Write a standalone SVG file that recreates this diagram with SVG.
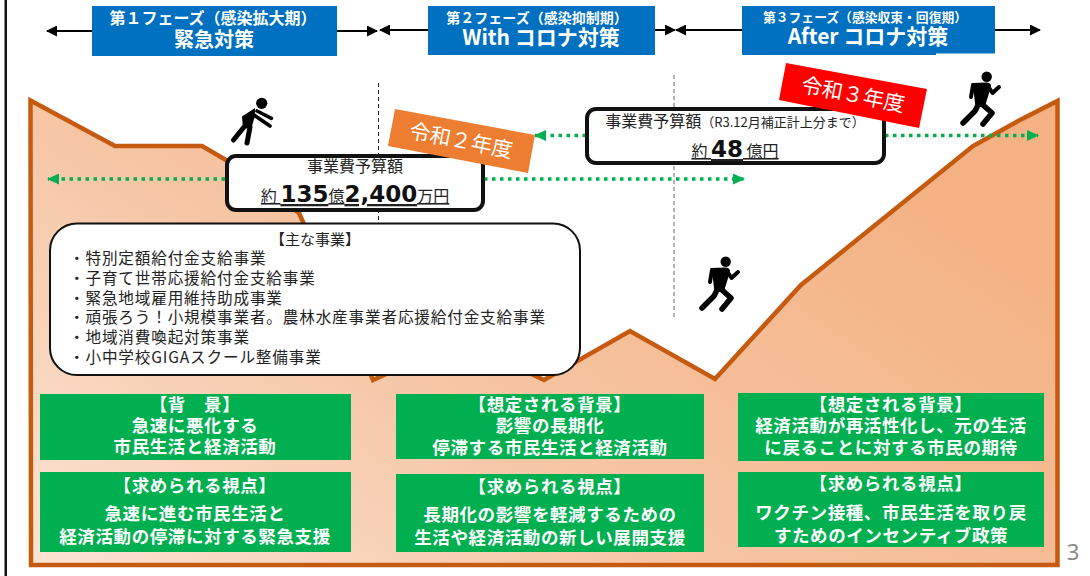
<svg xmlns="http://www.w3.org/2000/svg" width="1090" height="576" viewBox="0 0 1090 576">
<style>
text{font-family:"Noto Sans CJK JP","Noto Sans",sans-serif;text-anchor:middle}
.blue{fill:#0070C0}
.ph1{fill:#fff;font-weight:700}
.ph2{fill:#fff;font-weight:700;font-size:20px}
.ph3{fill:#fff;font-weight:700;font-size:21px}
.grn{fill:#00B050}
.gt{fill:#fff;font-weight:700;font-size:17.5px;letter-spacing:.6px}
.blk{stroke:#000;stroke-width:2;fill:none;marker-end:url(#ah)}
.dot{stroke:#00B050;stroke-width:3.5;stroke-dasharray:3.5 4.5;fill:none;marker-end:url(#gh)}
.bub{fill:#fff;stroke:#111;stroke-width:4}
.bt{fill:#222;font-size:16px}
.num{font-family:"DejaVu Sans",sans-serif;font-weight:700;font-size:23px;fill:#111}
.li{fill:#222;font-size:15.6px;text-anchor:start;letter-spacing:.85px}
.tag{fill:#fff;font-size:21px}
.fig{fill:none;stroke:#000;stroke-linecap:round;stroke-linejoin:round}
</style>
<defs>
<linearGradient id="mg" x1="0" y1="1" x2="1" y2="0.35">
<stop offset="0" stop-color="#FBE3D3"/><stop offset=".45" stop-color="#F6C6A5"/><stop offset="1" stop-color="#F4B183"/>
</linearGradient>
<marker id="ah" markerUnits="userSpaceOnUse" markerWidth="11" markerHeight="11" refX="10" refY="5.5" orient="auto"><path d="M0 0L11 5.5L0 11Z" fill="#000"/></marker>
<marker id="gh" markerUnits="userSpaceOnUse" markerWidth="12" markerHeight="11" refX="11" refY="5.5" orient="auto"><path d="M0 0L12 5.5L0 11Z" fill="#00B050"/></marker>
<g id="runner">
<circle cx="725.700" cy="261.700" r="5.200" fill="#000"/>
<path d="M710.500 268L726 267.500Q730.500 268 730 272L724 291L714.500 293L713 279Z" fill="#000"/>
<path class="fig" stroke-width="4" d="M712 270L710 282M727 271L731.500 278L738 272"/>
<path class="fig" stroke-width="5.500" d="M716 292L714 296L702 308M722 290L731 298L722 309"/>
</g>
</defs>
<rect width="1090" height="576" fill="#fff"/>
<rect x="4.500" y="0" width="2.500" height="576" fill="#111"/>

<g id="mountain">
<path d="M30.500 100.500L115 146L202 146L226 160L299 213L373 380L460 340L544 380L630 331L715 379L801 285L973 146L1020 120L1057.500 101L1057.500 565L31 565Z" fill="url(#mg)" stroke="#C55A11" stroke-width="4.500"/>
</g>

<g id="dividers">
<line x1="378.500" y1="83" x2="378.500" y2="225" stroke="#222" stroke-width="1" stroke-dasharray="4 3"/>
<line x1="674" y1="75" x2="674" y2="318" stroke="#999" stroke-width="1.500" stroke-dasharray="4 3"/>
</g>

<g id="connectors">
<line class="blk" x1="92" y1="31" x2="47" y2="31"/>
<line class="blk" x1="337" y1="31" x2="377" y2="31"/>
<line class="blk" x1="428" y1="30" x2="380" y2="30"/>
<line class="blk" x1="655" y1="30" x2="675" y2="30"/>
<line class="blk" x1="742" y1="30" x2="676" y2="30"/>
<line class="blk" x1="995" y1="30" x2="1040" y2="30"/>
<line class="dot" x1="225" y1="179" x2="48" y2="179"/>
<line class="dot" x1="484" y1="179" x2="744" y2="179"/>
<line class="dot" x1="586" y1="135.500" x2="535" y2="135.500"/>
<line class="dot" x1="885" y1="135.500" x2="1038" y2="135.500"/>
</g>

<g id="phase-1">
<rect class="blue" x="92" y="6" width="245" height="50"/>
<text class="ph1" x="213" y="24" font-size="16">第１フェーズ（感染拡大期）</text>
<text class="ph2" x="214" y="47">緊急対策</text>
</g>
<g id="phase-2">
<rect class="blue" x="428" y="6" width="227" height="49"/>
<text class="ph1" x="537" y="23" font-size="14">第２フェーズ（感染抑制期）</text>
<text class="ph3" x="541" y="45">With コロナ対策</text>
</g>
<g id="phase-3">
<rect class="blue" x="742" y="6" width="253" height="49"/>
<rect x="936" y="53.500" width="59" height="2" fill="#fff"/>
<text class="ph1" x="865" y="22" font-size="12.800">第３フェーズ（感染収束・回復期）</text>
<text class="ph3" x="868" y="44">After コロナ対策</text>
</g>

<g id="runner-1">
<circle cx="261.700" cy="103.300" r="5.600" fill="#000"/>
<path d="M255 108L242 116.500L243 128L251 129L255 116Z" fill="#000"/>
<path class="fig" stroke-width="3.600" d="M257 111L271.500 118.300M254 115L270 126"/>
<path class="fig" stroke-width="5" d="M244 127L233.500 140M250 127L247 143"/>
</g>
<use id="runner-2" href="#runner"/>
<use id="runner-3" href="#runner" transform="translate(261 -185)"/>

<g id="budget-1">
<rect class="bub" x="227" y="156" width="256" height="54" rx="9"/>
<text class="bt" x="355" y="172">事業費予算額</text>
<text x="355" y="202" fill="#222" font-size="16" text-decoration="underline">約 <tspan class="num">135</tspan>億<tspan class="num">2,400</tspan>万円</text>
</g>
<g id="budget-2">
<rect class="bub" x="587" y="109" width="297" height="54" rx="9"/>
<text class="bt" x="735" y="127">事業費予算額<tspan font-size="13">（R3.12月補正計上分まで）</tspan></text>
<text x="735" y="157" fill="#222" font-size="16" text-decoration="underline">約 <tspan class="num">48</tspan> 億円</text>
</g>

<g id="tag-r2">
<polygon points="395,109 535,135 528,173 388,146" fill="#ED7D31"/>
<text class="tag" x="461" y="148" transform="rotate(11 461 141)">令和２年度</text>
</g>
<g id="tag-r3">
<polygon points="786,63 927,89 919,128 779,100" fill="#FF0000"/>
<text class="tag" x="853" y="102" transform="rotate(11 853 95)">令和３年度</text>
</g>

<g id="main-projects">
<rect x="50" y="223.500" width="530" height="151.500" rx="27" fill="#fff" stroke="#111" stroke-width="2"/>
<text x="315" y="245" fill="#222" font-size="15">【主な事業】</text>
<text class="li" x="69" y="264">・特別定額給付金支給事業</text>
<text class="li" x="69" y="284">・子育て世帯応援給付金支給事業</text>
<text class="li" x="69" y="303.500">・緊急地域雇用維持助成事業</text>
<text class="li" x="69" y="323">・頑張ろう！小規模事業者。農林水産事業者応援給付金支給事業</text>
<text class="li" x="69" y="342.500">・地域消費喚起対策事業</text>
<text class="li" x="69" y="362.500">・小中学校GIGAスクール整備事業</text>
</g>

<g id="bg-1">
<rect class="grn" x="40" y="394" width="311" height="66"/>
<text class="gt" x="195" y="411">【背　景】</text>
<text class="gt" x="195" y="432">急速に悪化する</text>
<text class="gt" x="195" y="453">市民生活と経済活動</text>
</g>
<g id="view-1">
<rect class="grn" x="40" y="472" width="311" height="80"/>
<text class="gt" x="195" y="492">【求められる視点】</text>
<text class="gt" x="195" y="520">急速に進む市民生活と</text>
<text class="gt" x="195" y="543">経済活動の停滞に対する緊急支援</text>
</g>
<g id="bg-2">
<rect class="grn" x="396" y="394" width="308" height="65"/>
<text class="gt" x="550" y="411">【想定される背景】</text>
<text class="gt" x="550" y="432">影響の長期化</text>
<text class="gt" x="550" y="454">停滞する市民生活と経済活動</text>
</g>
<g id="view-2">
<rect class="grn" x="396" y="474" width="308" height="78"/>
<text class="gt" x="550" y="493">【求められる視点】</text>
<text class="gt" x="550" y="521">長期化の影響を軽減するための</text>
<text class="gt" x="550" y="544">生活や経済活動の新しい展開支援</text>
</g>
<g id="bg-3">
<rect class="grn" x="738" y="393" width="306" height="68"/>
<text class="gt" x="891" y="411">【想定される背景】</text>
<text class="gt" x="891" y="432">経済活動が再活性化し、元の生活</text>
<text class="gt" x="891" y="454">に戻ることに対する市民の期待</text>
</g>
<g id="view-3">
<rect class="grn" x="738" y="472" width="306" height="75"/>
<text class="gt" x="891" y="490">【求められる視点】</text>
<text class="gt" x="891" y="519">ワクチン接種、市民生活を取り戻</text>
<text class="gt" x="891" y="542">すためのインセンティブ政策</text>
</g>

<text id="page" x="1073" y="560" font-size="22" fill="#8a8a8a" style="font-family:'Noto Sans',sans-serif">3</text>
</svg>
